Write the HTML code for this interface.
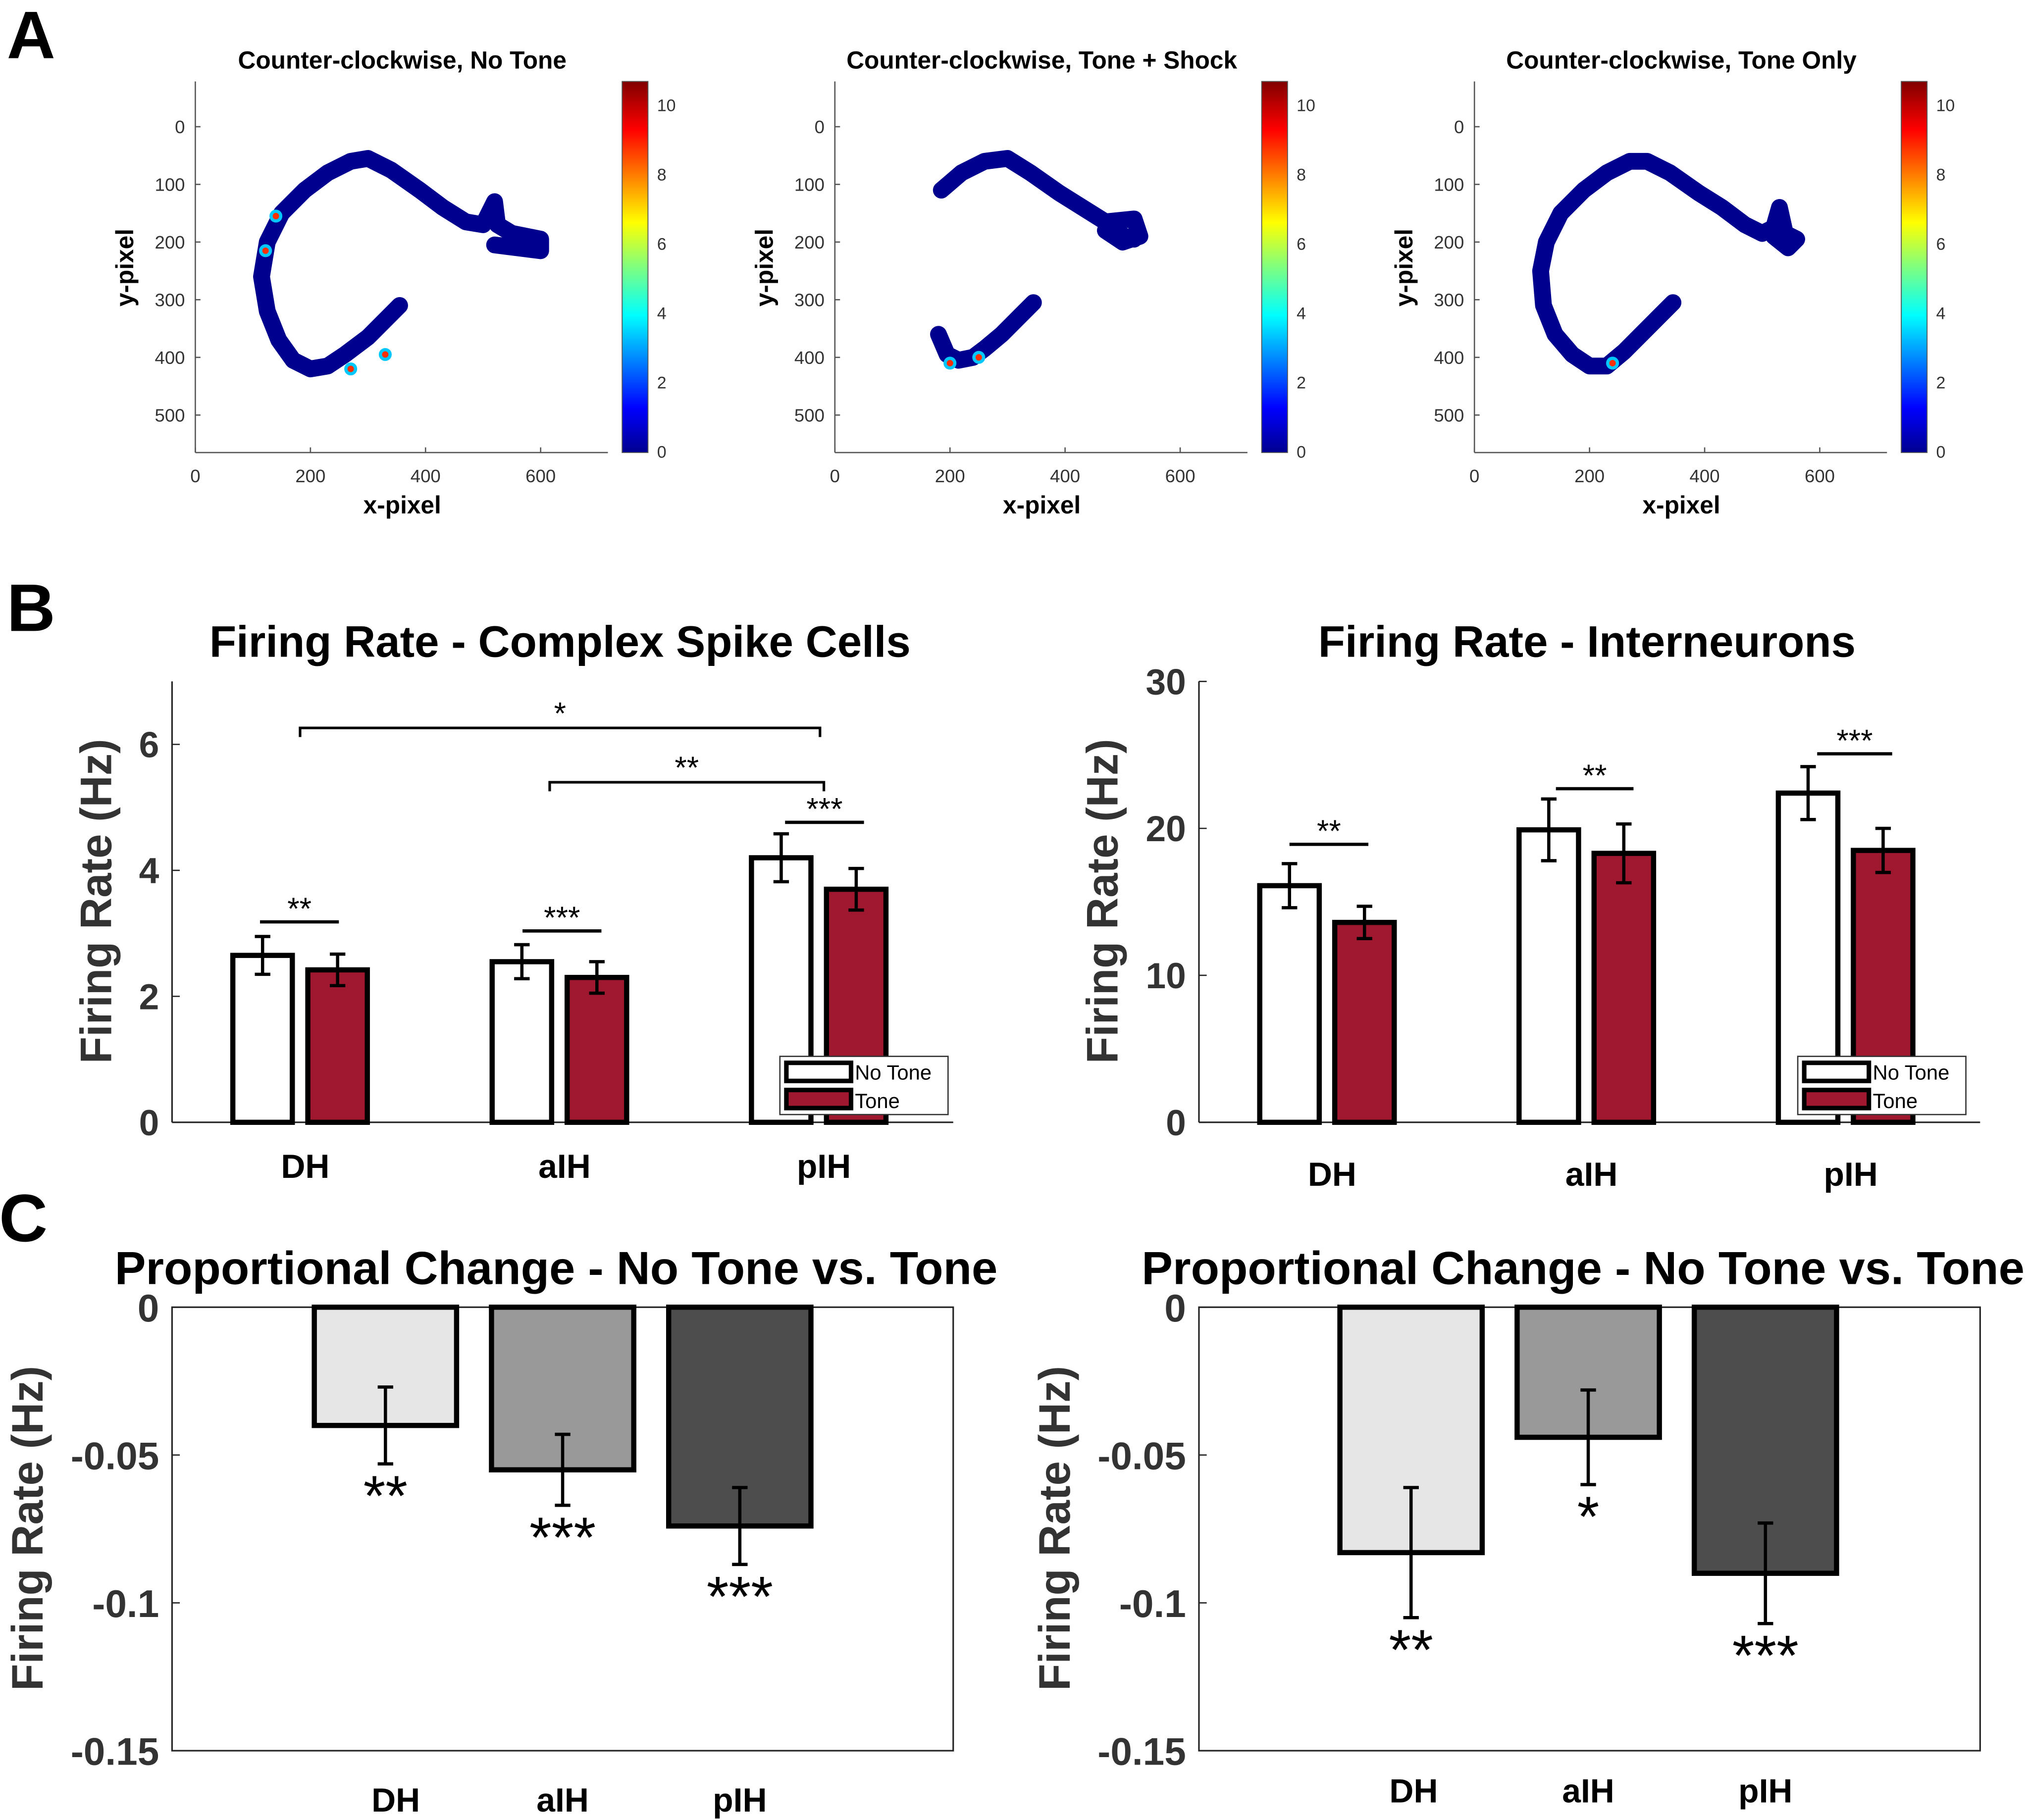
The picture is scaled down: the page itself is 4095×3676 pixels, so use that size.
<!DOCTYPE html>
<html><head><meta charset="utf-8"><style>
html,body{margin:0;padding:0;background:#fff}
svg{display:block}
text{font-family:"Liberation Sans",sans-serif}
</style></head><body>
<svg id="fig" xmlns="http://www.w3.org/2000/svg" width="4095" height="3676" viewBox="0 0 1568 1407.6"></svg>
<script>
// ---------- Panel A data (trajectories in pixel data coordinates) ----------
const aTitles = ["Counter-clockwise, No Tone","Counter-clockwise, Tone + Shock","Counter-clockwise, Tone Only"];
const aXTicks = [0,200,400,600];
const aYTicks = [0,100,200,300,400,500];
const cbTicks = [0,2,4,6,8,10];
const traj1 = [[355,310],[330,335],[300,365],[260,395],[230,415],[200,420],[170,405],[145,370],[125,320],[115,260],[125,200],[150,150],[190,110],[230,80],[270,60],[300,55],[340,75],[390,110],[430,140],[470,165],[500,170],[520,130],[525,170],[550,185],[600,195],[600,215],[560,210],[520,205]];
const traj2 = [[345,305],[320,330],[290,360],[260,385],[240,400],[215,405],[195,395],[180,360]];
const traj2b = [[185,110],[220,80],[260,60],[300,55],[340,80],[390,115],[430,140],[470,165],[520,160],[530,190],[500,200],[470,180],[520,195]];
const traj3 = [[345,305],[320,330],[290,360],[260,390],[230,415],[200,415],[170,395],[140,360],[120,310],[115,250],[125,200],[150,150],[190,110],[230,80],[270,60],[300,60],[340,80],[390,115],[430,140],[470,170],[500,185],[520,175],[530,140],[540,185],[560,195],[545,210],[520,190]];
const hot1 = [[122,215],[140,155],[270,420],[330,395]];
const hot2 = [[200,410],[250,400]];
const hot3 = [[240,410]];
// ---------- Panel B data ----------
const bCats = ["DH","aIH","pIH"];
const bLeftNoTone = [2.65,2.55,4.2];
const bLeftNoToneErr = [0.3,0.27,0.38];
const bLeftTone = [2.42,2.3,3.7];
const bLeftToneErr = [0.25,0.25,0.33];
const bLeftTicks = [0,2,4,6];
const bRightNoTone = [16.1,19.9,22.4];
const bRightNoToneErr = [1.5,2.1,1.8];
const bRightTone = [13.6,18.3,18.5];
const bRightToneErr = [1.1,2.0,1.5];
const bRightTicks = [0,10,20,30];
// ---------- Panel C data ----------
const cLeftVals = [-0.040,-0.055,-0.074];
const cLeftErr = [0.013,0.012,0.013];
const cLeftStars = ["**","***","***"];
const cRightVals = [-0.083,-0.044,-0.090];
const cRightErr = [0.022,0.016,0.017];
const cRightStars = ["**","*","***"];
const cTicks = [0,-0.05,-0.1,-0.15];
const cTickLabels = ["0","-0.05","-0.1","-0.15"];

const NS="http://www.w3.org/2000/svg";
const svg=document.getElementById('fig');
function mk(tag,attrs,parent){const e=document.createElementNS(NS,tag);for(const k in attrs)e.setAttribute(k,attrs[k]);(parent||svg).appendChild(e);return e;}
function txt(s,x,y,size,opts,parent){opts=opts||{};const e=mk('text',{x:x,y:y,'font-size':size,'font-weight':opts.w||'bold','text-anchor':opts.a||'middle',fill:opts.f||'#000'},parent);if(opts.rot)e.setAttribute('transform','rotate(-90 '+x+' '+y+')');if(opts.ff)e.setAttribute('font-family',opts.ff);e.textContent=s;return e;}

const defs=mk('defs',{});
const grad=mk('linearGradient',{id:'jet',x1:'0',y1:'1',x2:'0',y2:'0'},defs);
[["0","#00008f"],["0.12","#0000ff"],["0.37","#00ffff"],["0.5","#7fff7f"],["0.62","#ffff00"],["0.87","#ff0000"],["1","#800000"]].forEach(s=>mk('stop',{offset:s[0],'stop-color':s[1]},grad));

[["A",24,45],["B",24,488],["C",18,960]].forEach(l=>{const t=txt(l[0],l[1],l[2],52,{ff:'"Liberation Serif",serif'});});

// ---------- Panel A ----------
const trajs=[[traj1],[traj2,traj2b],[traj3]];
const hots=[hot1,hot2,hot3];
for(let p=0;p<3;p++){
  const L=151+p*494.5, R=L+319, T=63, B=350;
  const g=mk('g',{});
  
  
  const xs=v=>L+v*(89/200), ys=v=>98+v*(44.6/100);
  mk('line',{x1:L,y1:T,x2:L,y2:B,stroke:'#555','stroke-width':1},g);
  mk('line',{x1:L,y1:B,x2:R,y2:B,stroke:'#555','stroke-width':1},g);
  aXTicks.forEach(v=>{mk('line',{x1:xs(v),y1:B,x2:xs(v),y2:B-4,stroke:'#555'},g);txt(String(v),xs(v),373,14,{w:'normal',f:'#333'},g);});
  aYTicks.forEach(v=>{mk('line',{x1:L,y1:ys(v),x2:L+4,y2:ys(v),stroke:'#555'},g);txt(String(v),L-8,ys(v)+5,14,{w:'normal',a:'end',f:'#333'},g);});
  trajs[p].forEach(tr=>{
    const pl=mk('polyline',{points:tr.map(q=>xs(q[0])+','+ys(q[1])).join(' '),fill:'none',stroke:'#00008f','stroke-width':13,'stroke-linejoin':'round','stroke-linecap':'round'},g);
    
    
  });
  hots[p].forEach(h=>{mk('circle',{cx:xs(h[0]),cy:ys(h[1]),r:5,fill:'#00c8ff'},g);mk('circle',{cx:xs(h[0]),cy:ys(h[1]),r:2.5,fill:'#ff3000'},g);});
  const t=txt(aTitles[p],L+160,53,19,{},g);
  
  
  txt('x-pixel',L+160,397,19,{},g);
  txt('y-pixel',L-48,207,19,{rot:true},g);
  const cb=mk('rect',{x:L+330,y:T,width:20,height:B-T,fill:'url(#jet)',stroke:'#555','stroke-width':0.7},g);
  
  
  cbTicks.forEach(v=>{const y=349-v*26.8;txt(String(v),L+357,y+5,13,{w:'normal',a:'start',f:'#333'},g);});
}

function barChart(cfg){
  const g=mk('g',{});
  
  
  const y=v=>cfg.B-(v-cfg.min)/(cfg.max-cfg.min)*(cfg.B-cfg.T);
  return {g:g,y:y};
}
function errBar(g,x,v0,v1,y){mk('line',{x1:x,y1:y(v0),x2:x,y2:y(v1),stroke:'#000','stroke-width':2.5},g);[v0,v1].forEach(v=>mk('line',{x1:x-6,y1:y(v),x2:x+6,y2:y(v),stroke:'#000','stroke-width':2.5},g));}

// ---------- Panel B ----------
function panelB(o){
  const L=o.L,R=o.L+604,T=527,B=868;
  const c=barChart({name:o.name,B:B,T:T,min:0,max:o.max});const g=c.g,y=c.y;
  mk('line',{x1:L,y1:T,x2:L,y2:B,stroke:'#222','stroke-width':1.2},g);
  mk('line',{x1:L,y1:B,x2:R,y2:B,stroke:'#222','stroke-width':1.2},g);
  o.ticks.forEach(v=>{mk('line',{x1:L,y1:y(v),x2:L+6,y2:y(v),stroke:'#222'},g);txt(String(v),L-10,y(v)+10,28,{a:'end',f:'#333'},g);});
  const tt=txt(o.title,o.L+300,508,34,{},g);
  
  
  txt('Firing Rate (Hz)',o.ylx,697,34,{rot:true,f:'#333'},g);
  bCats.forEach((cat,i)=>{
    const cx=o.L+103+i*200.5;
    const b1=mk('rect',{x:cx-56,y:y(o.nt[i]),width:46,height:B-y(o.nt[i]),fill:'#fff',stroke:'#000','stroke-width':4},g);
    
    
    const b2=mk('rect',{x:cx+2,y:y(o.t[i]),width:46,height:B-y(o.t[i]),fill:'#a01830',stroke:'#000','stroke-width':4},g);
    
    
    errBar(g,cx-33,o.nt[i]-o.nte[i],o.nt[i]+o.nte[i],y);
    errBar(g,cx+25,o.t[i]-o.te[i],o.t[i]+o.te[i],y);
    txt(cat,cx,o.labY,26,{},g);
  });
  o.sig.forEach(s=>{mk('line',{x1:s[0],y1:s[2],x2:s[1],y2:s[2],stroke:'#000','stroke-width':2.5},g);txt(s[3],(s[0]+s[1])/2,s[2]-2,24,{w:'normal'},g);});
  (o.brackets||[]).forEach(s=>{mk('polyline',{points:s[0]+','+(s[2]+7)+' '+s[0]+','+s[2]+' '+s[1]+','+s[2]+' '+s[1]+','+(s[2]+7),fill:'none',stroke:'#000','stroke-width':2},g);txt(s[3],(s[0]+s[1])/2,s[2]-3,24,{w:'normal'},g);});
  const lg=mk('g',{},g);
  
  
  mk('rect',{x:o.legX,y:817,width:130,height:45,fill:'#fff',stroke:'#333','stroke-width':1},lg);
  mk('rect',{x:o.legX+5,y:822,width:50,height:14,fill:'#fff',stroke:'#000','stroke-width':3.5},lg);
  mk('rect',{x:o.legX+5,y:843,width:50,height:14,fill:'#a01830',stroke:'#000','stroke-width':3.5},lg);
  txt('No Tone',o.legX+58,835,16,{w:'normal',a:'start'},lg);
  txt('Tone',o.legX+58,857,16,{w:'normal',a:'start'},lg);
}
panelB({name:'chart-complex-spike',L:133,ylx:86,max:7,ticks:bLeftTicks,title:'Firing Rate - Complex Spike Cells',nt:bLeftNoTone,nte:bLeftNoToneErr,t:bLeftTone,te:bLeftToneErr,labY:911,legX:603,
  sig:[[201,262,713,'**'],[404,465,720,'***'],[607,668,636,'***']],brackets:[[232,634,563,'*'],[425,637,605,'**']]});
panelB({name:'chart-interneurons',L:927,ylx:864,max:30,ticks:bRightTicks,title:'Firing Rate - Interneurons',nt:bRightNoTone,nte:bRightNoToneErr,t:bRightTone,te:bRightToneErr,labY:917,legX:1390,
  sig:[[997,1058,653,'**'],[1203,1263,610,'**'],[1405,1463,583,'***']]});

// ---------- Panel C ----------
function panelC(o){
  const L=o.L,R=o.L+604,T=1011,B=1354;
  const c=barChart({name:o.name,B:B,T:T,min:-0.15,max:0});const g=c.g,y=c.y;
  mk('rect',{x:L,y:T,width:R-L,height:B-T,fill:'none',stroke:'#222','stroke-width':1.2},g);
  cTicks.forEach((v,i)=>{mk('line',{x1:L,y1:y(v),x2:L+6,y2:y(v),stroke:'#222'},g);txt(cTickLabels[i],L-10,y(v)+11,30,{a:'end',f:'#333'},g);});
  const tt=txt('Proportional Change - No Tone vs. Tone',o.L+297,993,36,{},g);
  
  
  txt('Firing Rate (Hz)',L-100,1182,34,{rot:true,f:'#333'},g);
  const fills=['#e6e6e6','#999999','#4d4d4d'];
  bCats.forEach((cat,i)=>{
    const cx=o.c0+i*137;
    const b=mk('rect',{x:cx-55,y:y(0),width:110,height:y(o.v[i])-y(0),fill:fills[i],stroke:'#000','stroke-width':4},g);
    
    
    errBar(g,cx,o.v[i]-o.e[i],o.v[i]+o.e[i],y);
    txt(o.s[i],cx,y(o.v[i]-o.e[i])+40,44,{w:'normal',ff:'"DejaVu Sans",sans-serif'},g);
    txt(cat,cx+(i===0?o.dx:0),o.labY,26,{},g);
  });
}
panelC({name:'chart-prop-change-left',L:133,c0:298,v:cLeftVals,e:cLeftErr,s:cLeftStars,labY:1401,dx:8});
panelC({name:'chart-prop-change-right',L:927,c0:1091,v:cRightVals,e:cRightErr,s:cRightStars,labY:1394,dx:2});
</script>
</body></html>
